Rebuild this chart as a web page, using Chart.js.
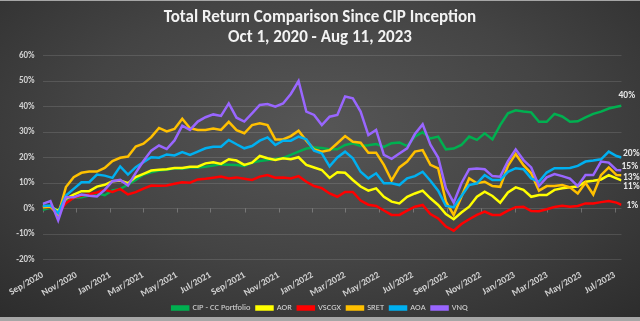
<!DOCTYPE html>
<html lang="en">
<head>
<meta charset="UTF-8">
<title>Total Return Comparison Since CIP Inception</title>
<script src="https://cdn.jsdelivr.net/npm/chart.js"></script>
<style>
    html, body { margin: 0; padding: 0; background: #a6a6a6; }
    .frame { width: 640px; height: 321px; position: relative; background: #a6a6a6; }
    .chart-box { position: absolute; left: 0; top: 1px; width: 640px; height: 316px; overflow: hidden;
        background: radial-gradient(ellipse 75% 85% at 50% 40%, #565656 0%, #444444 50%, #2b2b2b 100%); }
</style>
</head>
<body>
<div class="frame"><div class="chart-box"><canvas id="chart"></canvas></div></div>
<script>
// total return in %, sampled every two weeks from Sep 30 2020, last point Aug 11 2023
const seriesNames = ["CIP - CC Portfolio", "AOR", "VSCGX", "SRET", "AOA", "VNQ"];
const seriesColors = ["#00b050", "#ffff00", "#ff0000", "#ffc000", "#00b0f0", "#9966ff"];

const cip = [-0.5, 0.3, -0.8, 2.5, 4.2, 4.4, 5.1, 6.0, 5.2, 7.1,
    7.7, 9.3, 11.2, 13.3, 14.2, 14.9, 15.2, 15.8, 15.6, 16.1,
    16.1, 16.4, 16.9, 17.3, 17.2, 17.1, 16.7, 18.0, 18.6, 19.0,
    19.4, 19.8, 21.0, 22.3, 23.5, 23.9, 23.7, 23.2, 23.2, 24.9,
    25.6, 24.5, 24.8, 25.3, 24.2, 25.6, 25.9, 24.5, 28.2, 29.9,
    27.5, 28.2, 23.2, 23.5, 24.9, 28.2, 26.9, 29.5, 27.1, 32.7,
    37.3, 38.5, 38.0, 37.7, 34.0, 34.0, 37.1, 36.1, 34.0, 34.2,
    35.7, 37.1, 38.0, 39.2, 39.9, 40.3];
const aor = [1.0, 0.8, -1.0, 3.8, 5.4, 6.8, 6.8, 8.6, 9.3, 10.7,
    11.0, 9.9, 12.3, 13.6, 14.9, 15.2, 15.4, 15.9, 15.9, 16.4,
    16.4, 17.7, 18.1, 17.5, 19.3, 18.8, 17.1, 18.0, 20.6, 19.7,
    19.0, 19.7, 19.3, 20.1, 17.1, 16.1, 15.1, 12.0, 14.2, 14.0,
    11.2, 8.6, 7.0, 7.9, 4.6, 2.7, 2.0, 4.6, 5.9, 7.0,
    4.0, 1.4, -2.2, -4.2, -1.6, 0.7, 4.6, 6.6, 4.9, 2.3,
    6.3, 8.3, 7.3, 4.6, 5.3, 5.3, 7.3, 7.9, 8.3, 8.6,
    10.5, 10.9, 11.4, 13.1, 11.8, 11.0];
const vscgx = [0.5, 0.5, -1.8, 2.1, 4.2, 5.1, 5.6, 6.3, 7.3, 6.5,
    7.7, 5.5, 6.4, 7.8, 9.0, 8.9, 9.0, 9.7, 10.3, 10.1,
    11.4, 11.7, 12.1, 12.5, 11.8, 12.2, 11.7, 11.2, 12.5, 13.1,
    12.1, 12.2, 11.8, 12.7, 10.5, 8.8, 8.0, 5.9, 4.6, 6.5,
    6.5, 3.1, 1.5, 1.0, -0.8, -2.5, -2.5, -0.8, 0.7, 1.4,
    -2.2, -3.9, -7.1, -8.7, -6.1, -4.2, -2.5, -1.2, -2.5, -2.5,
    -0.8, 0.5, 0.7, -1.0, -1.1, -0.3, 0.6, 1.1, 0.7, 1.0,
    2.0, 2.0, 2.5, 2.9, 2.3, 1.4];
const sret = [0.5, 0.8, -2.5, 8.4, 12.3, 14.0, 14.5, 14.5, 15.9, 18.6,
    19.9, 20.4, 24.3, 25.4, 28.0, 31.6, 30.2, 31.2, 35.2, 31.5,
    30.8, 30.8, 31.4, 30.8, 34.0, 30.7, 29.5, 32.7, 33.4, 32.7,
    27.1, 27.1, 28.4, 30.5, 26.6, 23.2, 22.3, 22.9, 25.6, 28.4,
    26.2, 25.8, 21.9, 21.9, 17.1, 11.0, 16.1, 18.4, 22.3, 22.9,
    17.1, 15.7, 2.7, -2.5, 4.6, 11.8, 9.9, 10.5, 8.8, 8.5,
    16.7, 21.4, 17.0, 13.8, 7.0, 8.8, 8.8, 9.2, 8.3, 5.9,
    10.1, 5.5, 13.1, 16.1, 13.1, 13.0];
const aoa = [1.0, 1.2, -1.8, 5.1, 7.7, 10.3, 10.3, 13.3, 12.9, 12.0,
    16.5, 13.3, 16.2, 18.2, 20.1, 19.9, 21.2, 20.8, 22.1, 21.0,
    22.3, 23.6, 24.2, 24.2, 26.9, 25.2, 23.6, 24.5, 26.6, 27.9,
    24.9, 26.6, 26.6, 28.2, 27.1, 22.7, 21.6, 16.5, 20.0, 22.3,
    19.7, 14.4, 11.8, 13.8, 9.9, 9.9, 9.2, 11.8, 12.7, 14.4,
    10.9, 7.0, 1.0, 0.5, 4.9, 9.2, 9.9, 13.1, 11.2, 11.2,
    14.4, 15.8, 15.4, 11.8, 10.5, 14.1, 15.8, 15.8, 15.9, 16.7,
    18.4, 18.8, 19.3, 22.3, 20.6, 20.0];
const vnq = [1.8, 2.9, -4.7, 4.4, 4.4, 5.5, 5.0, 4.7, 7.3, 10.7,
    11.2, 9.0, 14.0, 18.6, 22.7, 24.7, 23.3, 26.7, 32.5, 30.8,
    34.1, 35.8, 36.9, 36.3, 41.2, 35.6, 34.1, 37.3, 40.6, 41.0,
    39.9, 41.2, 44.9, 50.0, 38.0, 36.7, 32.7, 36.0, 36.7, 43.9,
    43.2, 38.0, 28.8, 30.8, 21.0, 19.5, 21.6, 23.6, 29.2, 33.0,
    25.0, 20.0, 7.9, 2.3, 9.9, 15.4, 15.7, 15.4, 12.7, 12.5,
    18.6, 23.2, 19.0, 16.1, 8.8, 12.2, 13.5, 12.7, 11.7, 8.8,
    13.1, 13.1, 18.4, 18.0, 15.1, 15.0];

const tickLabels = ["Sep/2020", "Nov/2020", "Jan/2021", "Mar/2021", "May/2021", "Jul/2021",
    "Sep/2021", "Nov/2021", "Jan/2022", "Mar/2022", "May/2022", "Jul/2022",
    "Sep/2022", "Nov/2022", "Jan/2023", "Mar/2023", "May/2023", "Jul/2023"];

// end-of-line label nudges (px), same order as the series
const labelDx = [-3, 1.5, 5, 1.5, 1.5, 0];
const labelDy = [-10, 6, 1, 2, -3.5, -3.5];

const allSeries = [cip, aor, vscgx, sret, aoa, vnq];
const DAY = 86400000;
const startDate = Date.UTC(2020, 8, 30);
const endDate = Date.UTC(2023, 7, 11);
const lastDay = (endDate - startDate) / DAY;
const sampleDays = cip.map((v, i) => i === cip.length - 1 ? lastDay : i * 14);

const monthNames = ["Jan", "Feb", "Mar", "Apr", "May", "Jun", "Jul", "Aug", "Sep", "Oct", "Nov", "Dec"];
const tickDays = tickLabels.map(t => {
    let [m, y] = t.split("/");
    return (Date.UTC(+y, monthNames.indexOf(m), 30) - startDate) / DAY;
});

Chart.defaults.font.family = "Carlito, Lato, sans-serif";
Chart.defaults.color = "#d9d9d9";

const extras = {
    id: "extras",
    beforeDatasetsDraw(chart) {
        // small tick marks hanging under the 0% line
        let ctx = chart.ctx, x = chart.scales.x, y = chart.scales.y;
        let y0 = y.getPixelForValue(0);
        ctx.save();
        ctx.strokeStyle = "rgba(255,255,255,0.25)";
        ctx.lineWidth = 1;
        tickDays.forEach(d => {
            let px = Math.round(x.getPixelForValue(d)) + 0.5;
            ctx.beginPath();
            ctx.moveTo(px, y0);
            ctx.lineTo(px, y0 + 4);
            ctx.stroke();
        });
        ctx.restore();
    },
    afterDatasetsDraw(chart) {
        let ctx = chart.ctx;
        ctx.save();
        ctx.font = "bold 9.5px Carlito, Lato, sans-serif";
        ctx.fillStyle = "#e6e6e6";
        ctx.textBaseline = "middle";
        chart.data.datasets.forEach((ds, i) => {
            let pts = chart.getDatasetMeta(i).data;
            let p = pts[pts.length - 1];
            let v = ds.data[ds.data.length - 1].y;
            ctx.fillText(Math.round(v) + "%", p.x + labelDx[i], p.y + labelDy[i]);
        });
        ctx.restore();
    }
};

new Chart(document.getElementById("chart"), {
    type: "line",
    data: {
        datasets: allSeries.map((s, i) => ({
            label: seriesNames[i],
            data: s.map((v, j) => ({ x: sampleDays[j], y: v })),
            yAxisID: "y",
            borderColor: seriesColors[i],
            backgroundColor: seriesColors[i],
            borderWidth: 2.5,
            pointRadius: 0,
            tension: 0,
            order: allSeries.length - i
        }))
    },
    options: {
        responsive: true,
        maintainAspectRatio: false,
        animation: false,
        layout: { padding: { left: 0, right: 0, top: 0, bottom: -5.25 } },
        plugins: {
            title: {
                display: true,
                text: ["Total Return Comparison Since CIP Inception", "Oct 1, 2020 - Aug 11, 2023"],
                color: "#f2f2f2",
                font: { size: 17, weight: "bold", lineHeight: "20px" },
                padding: { top: 6.5, bottom: 8 }
            },
            legend: {
                position: "bottom",
                labels: {
                    boxWidth: 16,
                    boxHeight: 3,
                    padding: 6,
                    color: "#d9d9d9",
                    font: { size: 8.5 },
                    sort: (a, b) => a.datasetIndex - b.datasetIndex
                }
            },
            tooltip: { enabled: false }
        },
        scales: {
            x: {
                type: "linear",
                min: 0,
                max: lastDay,
                afterBuildTicks: scale => { scale.ticks = tickDays.map(d => ({ value: d })); },
                afterFit: scale => { scale.height = 38.25; },
                grid: { display: false, drawTicks: false },
                border: { display: false },
                ticks: {
                    autoSkip: false,
                    maxRotation: 30,
                    minRotation: 30,
                    padding: 10,
                    color: "#d0d0d0",
                    font: { size: 9.5, weight: "bold" },
                    callback: v => tickLabels[tickDays.indexOf(v)]
                }
            },
            y: {
                min: -20,
                max: 60,
                afterFit: scale => { scale.width = 37; },
                grid: { color: "rgba(255,255,255,0.12)", lineWidth: 1, drawTicks: false },
                border: { display: false },
                ticks: {
                    stepSize: 10,
                    padding: 8,
                    color: "#d0d0d0",
                    font: { size: 9, weight: "bold" },
                    callback: v => v + "%"
                }
            },
            // empty right-hand margin for the end labels
            yRight: {
                position: "right",
                afterFit: scale => { scale.width = 18.5; },
                grid: { display: false, drawTicks: false },
                border: { display: false },
                ticks: { display: false }
            }
        }
    },
    plugins: [extras]
});
</script>
</body>
</html>
